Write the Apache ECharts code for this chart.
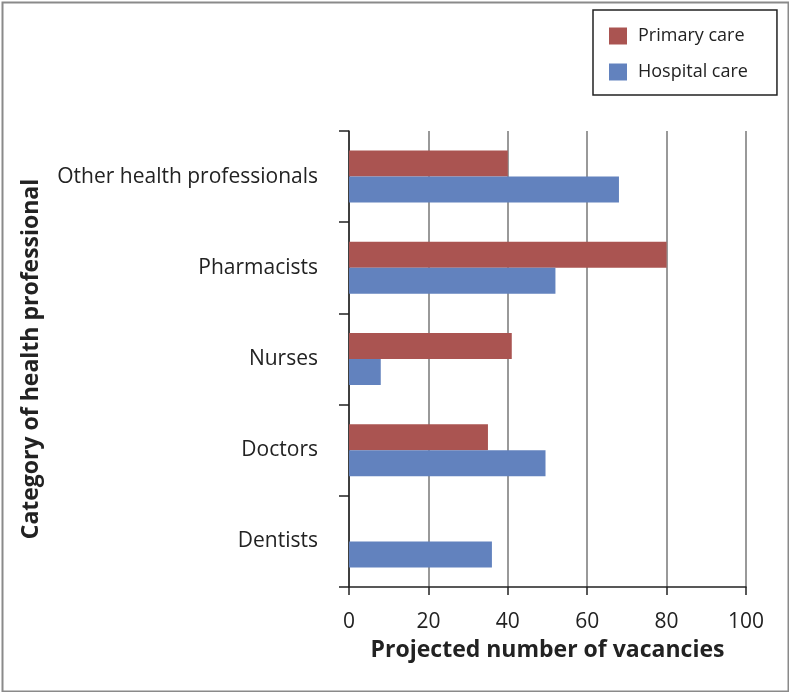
<!DOCTYPE html>
<html>
<head>
<meta charset="utf-8">
<script src="https://cdn.jsdelivr.net/npm/echarts@6/dist/echarts.min.js"></script>
<style>html,body{margin:0;padding:0;background:#fff}#c{width:789px;height:692px}</style>
</head>
<body>
<div id="c"></div>
<script>
const categories = ['Dentists', 'Doctors', 'Nurses', 'Pharmacists', 'Other health professionals'];
const primaryCare = [0, 35, 41, 80, 40];
const hospitalCare = [36, 49.5, 8, 52, 68];
const xTicks = [0, 20, 40, 60, 80, 100];

const FONT = '"Open Sans", sans-serif';
const chart = echarts.init(document.getElementById('c'), null, {renderer: 'canvas'});
chart.setOption({
  backgroundColor: '#fff',
  animation: false,
  textStyle: {fontFamily: FONT},
  graphic: [{
    type: 'rect', left: 0, top: 0, silent: true,
    shape: {x: 1, y: 1, width: 786, height: 689},
    style: {fill: 'none', stroke: '#8a8a8a', lineWidth: 2}
  }],
  legend: {
    orient: 'vertical',
    left: 593, top: 10,
    icon: 'rect',
    itemWidth: 18, itemHeight: 17, itemGap: 18,
    padding: [17, 29, 14, 16],
    borderColor: '#222', borderWidth: 1.5,
    textStyle: {fontFamily: FONT, fontSize: 18, color: '#222', padding: [0, 0, 0, 6]},
    data: ['Primary care', 'Hospital care']
  },
  grid: {left: 349, right: 43, top: 131, bottom: 105, containLabel: false},
  xAxis: {
    type: 'value', min: xTicks[0], max: xTicks[xTicks.length - 1], interval: 20,
    name: 'Projected number of vacancies', nameLocation: 'middle', nameGap: 52,
    nameTextStyle: {fontFamily: FONT, fontSize: 23, fontWeight: 'bold', color: '#222'},
    axisLine: {show: true, lineStyle: {color: '#222', width: 1.5}},
    axisTick: {show: true, length: 8, lineStyle: {color: '#222', width: 1.5}},
    axisLabel: {fontFamily: FONT, fontSize: 21, color: '#222', margin: 25},
    splitLine: {show: true, lineStyle: {color: '#999', width: 2}}
  },
  yAxis: {
    type: 'category', data: categories,
    name: 'Category of health professional', nameLocation: 'middle', nameGap: 306,
    nameTextStyle: {fontFamily: FONT, fontSize: 23, fontWeight: 'bold', color: '#222'},
    axisLine: {show: true, lineStyle: {color: '#222', width: 1.5}},
    axisTick: {show: true, length: 10, lineStyle: {color: '#222', width: 1.5}},
    axisLabel: {fontFamily: FONT, fontSize: 21, color: '#222', margin: 31, padding: [6, 0, 0, 0]}
  },
  series: [
    {name: 'Primary care', type: 'bar', data: primaryCare, barGap: '0%', barCategoryGap: '43%',
     itemStyle: {color: '#AA5451'}},
    {name: 'Hospital care', type: 'bar', data: hospitalCare, barGap: '0%', barCategoryGap: '43%',
     itemStyle: {color: '#6282BE'}}
  ]
});
</script>
</body>
</html>
